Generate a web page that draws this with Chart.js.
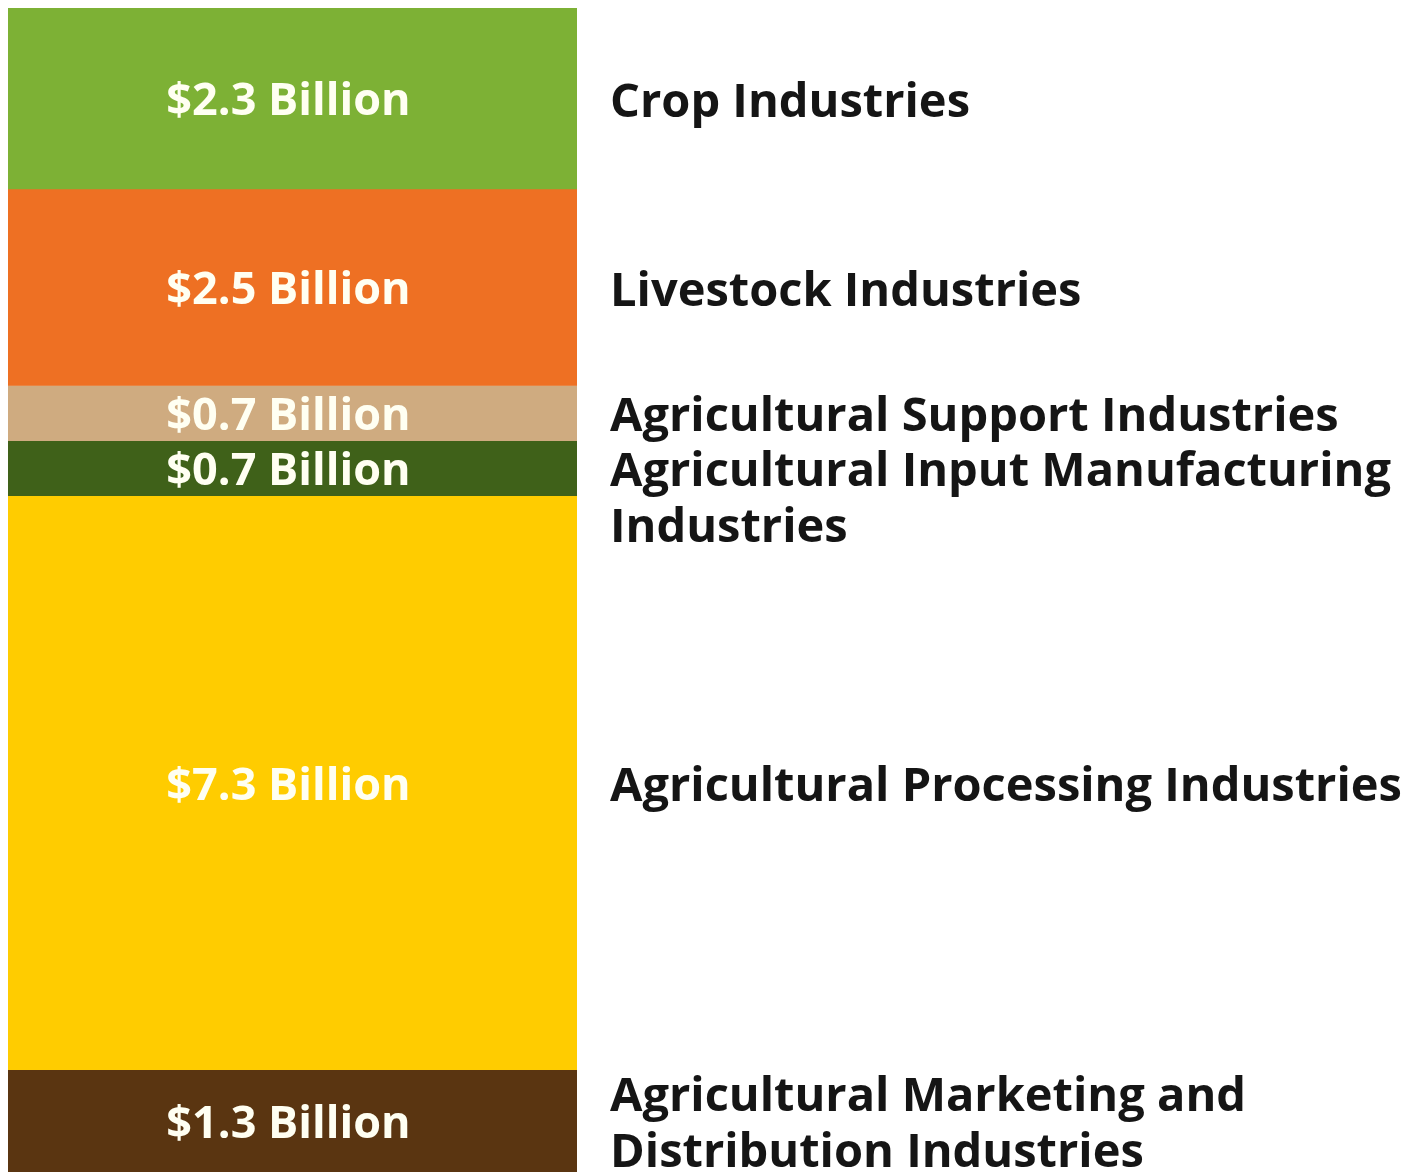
<!DOCTYPE html>
<html>
<head>
<meta charset="utf-8">
<script src="https://cdn.jsdelivr.net/npm/chart.js@4/dist/chart.umd.min.js"></script>
<style>
  html, body { margin: 0; padding: 0; background: #fff; }
  #wrap { width: 1420px; height: 1176px; position: relative; }
</style>
</head>
<body>
<div id="wrap"><canvas id="chart"></canvas></div>
<script>
// Segments, top to bottom (billions of dollars)
const industries = [
  ['Crop Industries'],
  ['Livestock Industries'],
  ['Agricultural Support Industries'],
  ['Agricultural Input Manufacturing', 'Industries'],
  ['Agricultural Processing Industries'],
  ['Agricultural Marketing and', 'Distribution Industries']
];
const values = [2.3, 2.5, 0.7, 0.7, 7.3, 1.3];
const valueLabels = ['$2.3 Billion', '$2.5 Billion', '$0.7 Billion', '$0.7 Billion', '$7.3 Billion', '$1.3 Billion'];
const colors = ['#7db135', '#ee7023', '#cfab80', '#3f6119', '#ffcc00', '#5a3511'];
// 'top' = first line sits on the segment middle, 'middle' = whole block centred
const labelAnchor = ['middle', 'middle', 'middle', 'top', 'middle', 'middle'];

const total = values.reduce((a, b) => a + b, 0);

const datasets = values.map((v, i) => ({
  label: industries[i].join(' '),
  data: [v],
  backgroundColor: colors[i],
  borderWidth: 0,
  barPercentage: 1,
  categoryPercentage: 1
}));

const LABEL_X = 610;

const segmentLabels = {
  id: 'segmentLabels',
  afterDatasetsDraw(chart) {
    const ctx = chart.ctx;
    ctx.save();
    chart.data.datasets.forEach((ds, i) => {
      const bar = chart.getDatasetMeta(i).data[0];
      const mid = (bar.y + bar.base) / 2;

      // value inside the bar
      ctx.font = 'bold 45px "Open Sans"';
      ctx.fillStyle = '#fffff2';
      ctx.textAlign = 'center';
      ctx.textBaseline = 'middle';
      ctx.fillText(valueLabels[i], bar.x - 4, mid + 4);

      // industry name to the right
      const lines = industries[i];
      const lh = 56;
      ctx.font = 'bold 47px "Open Sans"';
      ctx.fillStyle = '#151515';
      ctx.textAlign = 'left';
      let y0 = labelAnchor[i] === 'top' ? mid : mid - (lines.length - 1) * lh / 2;
      lines.forEach((ln, k) => ctx.fillText(ln, LABEL_X, y0 + k * lh + 5));
    });
    ctx.restore();
  }
};

new Chart(document.getElementById('chart'), {
  type: 'bar',
  data: { labels: [''], datasets },
  options: {
    responsive: true,
    maintainAspectRatio: false,
    animation: false,
    layout: { padding: { left: 8, right: 843, top: 8, bottom: 4 } },
    scales: {
      x: { stacked: true, display: false },
      y: { stacked: true, display: false, reverse: true, min: 0, max: total }
    },
    plugins: {
      legend: { display: false },
      tooltip: { enabled: false }
    }
  },
  plugins: [segmentLabels]
});
</script>
</body>
</html>
